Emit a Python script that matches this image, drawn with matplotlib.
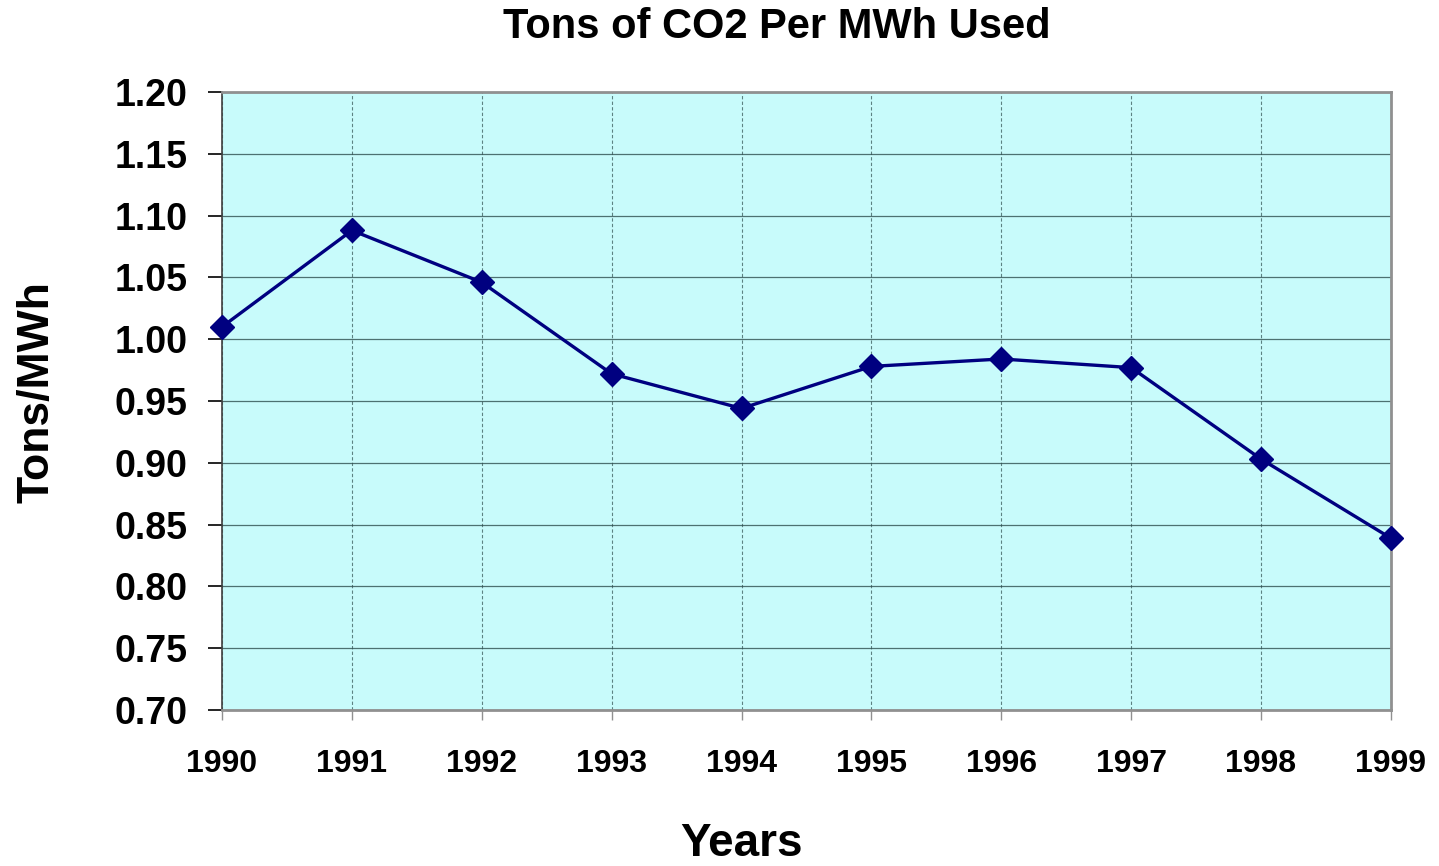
import matplotlib
matplotlib.use("Agg")
import matplotlib.pyplot as plt

years = [1990, 1991, 1992, 1993, 1994, 1995, 1996, 1997, 1998, 1999]
tons_per_mwh = [1.010, 1.088, 1.046, 0.972, 0.944, 0.978, 0.984, 0.977, 0.903, 0.839]
y_ticks = [0.70, 0.75, 0.80, 0.85, 0.90, 0.95, 1.00, 1.05, 1.10, 1.15, 1.20]

plt.rcParams["font.family"] = ["Liberation Sans", "DejaVu Sans"]
plt.rcParams["font.weight"] = "bold"

fig = plt.figure(figsize=(14.39, 8.66), dpi=100)
ax = fig.add_axes([0.1543, 0.1801, 0.8123, 0.7137])
ax.set_facecolor("#C8FBFB")

ax.plot(years, tons_per_mwh, color="#000080", linewidth=2.4,
        marker="D", markersize=12, markerfacecolor="#000080",
        markeredgecolor="#000080", zorder=5, clip_on=False)

ax.set_xlim(years[0], years[-1])
ax.set_ylim(y_ticks[0], y_ticks[-1])
ax.set_xticks(years)
ax.set_yticks(y_ticks)
ax.set_yticklabels(["%.2f" % v for v in y_ticks])

ax.grid(axis="y", color="#2f4f4f", linewidth=0.9, alpha=0.8)
ax.grid(axis="x", color="#2f4f4f", linewidth=0.8, alpha=0.7, linestyle=(0, (3, 2)))

for side in ("right", "bottom", "top"):
    ax.spines[side].set_color("#909090")
    ax.spines[side].set_linewidth(2)
ax.spines["left"].set_color("#404040")
ax.spines["left"].set_linewidth(1.2)

ax.tick_params(axis="y", labelsize=27, length=10, width=1.2, pad=15)
ax.tick_params(axis="x", labelsize=23, length=7, width=1, pad=21, color="#909090")

fig.text(0.54, 0.956, "Tons of CO2 Per MWh Used", fontsize=30,
         fontweight="bold", ha="center", va="baseline")
fig.text(0.515, 0.012, "Years", fontsize=33, fontweight="bold",
         ha="center", va="baseline")
fig.text(0.026, 0.547, "Tons/MWh", fontsize=32, fontweight="bold",
         ha="center", va="center", rotation=90)

fig.savefig("out.png", dpi=100)
